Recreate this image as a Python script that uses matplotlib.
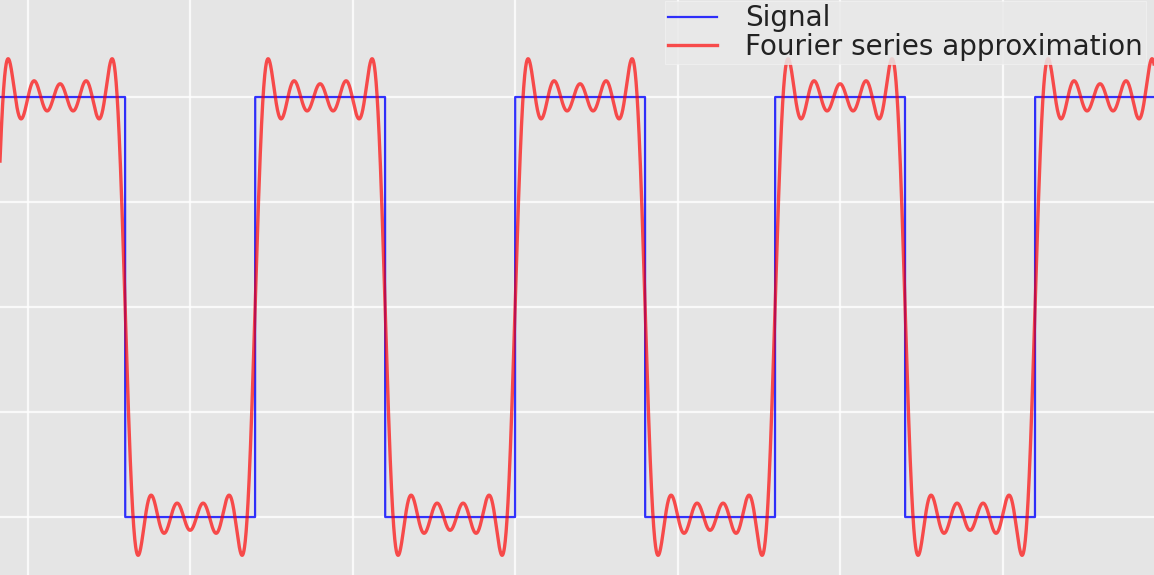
import numpy as np
import matplotlib
matplotlib.use("Agg")
import matplotlib.pyplot as plt

# square wave with period 8, shown from about -15.85 to 19.66
period = 8.0
x_start = -15.85
x_end = 19.66
harmonics = [1, 3, 5, 7, 9]               # odd harmonics kept in the approximation
x_grid = [-15, -10, -5, 0, 5, 10, 15]     # vertical grid positions
y_grid = [-1, -0.5, 0, 0.5, 1]            # horizontal grid positions
y_lim = (-1.276, 1.462)

t = np.linspace(x_start, x_end, 8000)
w = 2 * np.pi / period
signal = np.sign(np.sin(w * t))
approx = np.zeros_like(t)
for n in harmonics:
    approx += 4 / np.pi * np.sin(n * w * t) / n

plt.style.use("ggplot")
fig = plt.figure(figsize=(11.54, 5.75), dpi=100)
ax = fig.add_axes([0, 0, 1, 1])
ax.set_facecolor("#E5E5E5")

ax.plot(t, signal, color="blue", lw=1.6, alpha=0.8, label="Signal")
ax.plot(t, approx, color="red", lw=2.4, alpha=0.68, label="Fourier series approximation")

ax.set_xlim(x_start, x_end)
ax.set_ylim(*y_lim)
ax.set_xticks(x_grid)
ax.set_yticks(y_grid)
ax.grid(True, color="white", lw=1.6, alpha=0.8)
ax.tick_params(length=0, labelbottom=False, labelleft=False)
for s in ax.spines.values():
    s.set_visible(False)

leg = ax.legend(loc="upper right", bbox_to_anchor=(0.993, 0.998), borderaxespad=0,
                fontsize=20, labelspacing=0.02, handlelength=1.75, handletextpad=1.0,
                borderpad=0.12, fancybox=False, framealpha=0.85)
leg.get_frame().set_facecolor("#E9E9E9")
leg.get_frame().set_edgecolor("#F4F4F4")
for txt in leg.get_texts():
    txt.set_color("#222222")

fig.savefig("out.png", dpi=100)
